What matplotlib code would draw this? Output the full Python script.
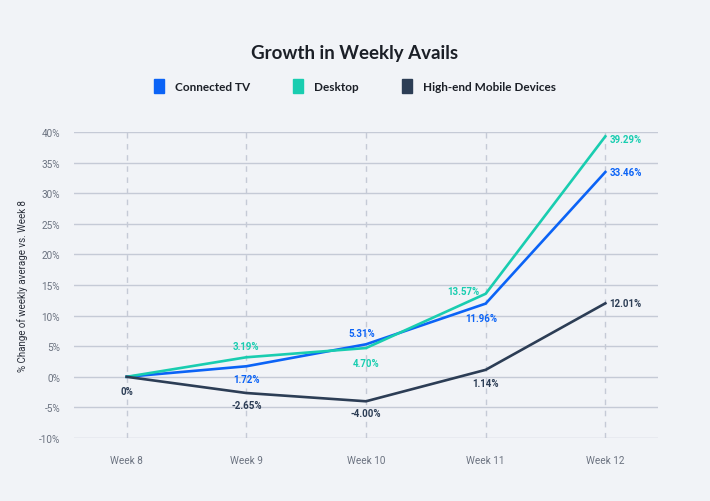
import matplotlib.pyplot as plt
from matplotlib.patches import Patch

weeks = ["Week 8", "Week 9", "Week 10", "Week 11", "Week 12"]
connected_tv = [0, 1.72, 5.31, 11.96, 33.46]
desktop = [0, 3.19, 4.70, 13.57, 39.29]
mobile = [0, -2.65, -4.00, 1.14, 12.01]
series_names = ["Connected TV", "Desktop", "High-end Mobile Devices"]
colors = ["#0b63f6", "#19cdb0", "#2c3d55"]

# label placement per point: (dx, dy, ha) in pixels, None = no label
tv_pos = [None, (0, -13, "center"), (-4, 11, "center"), (-4, -14, "center"), (4, 0, "left")]
desk_pos = [None, (0, 11, "center"), (0, -15, "center"), (-6, 3, "right"), (4, -3, "left")]
mob_pos = [(0, -14, "center"), (0, -12, "center"), (0, -12, "center"), (0, -13, "center"), (4, 0, "left")]

bg = "#f1f3f7"
plt.rcParams["font.family"] = ["Roboto", "DejaVu Sans"]

fig = plt.figure(figsize=(7.1, 5.02), dpi=100, facecolor=bg)
ax = fig.add_axes([74 / 710, 1 - 439 / 502, (658 - 74) / 710, (439 - 133) / 502])
ax.set_facecolor(bg)

x = list(range(len(weeks)))
for vals, pos, c in zip([connected_tv, desktop, mobile], [tv_pos, desk_pos, mob_pos], colors):
    ax.plot(x, vals, color=c, lw=1.9, zorder=3, solid_joinstyle="miter")
    for xi, v, p in zip(x, vals, pos):
        if p is None:
            continue
        lbl = "0%" if v == 0 else f"{v:.2f}%"
        ax.annotate(lbl, (xi, v), xytext=(p[0], p[1]), textcoords="offset pixels",
                    ha=p[2], va="center", fontsize=7, fontweight="bold", color=c, zorder=4)

ax.set_xlim(-0.44, 4.44)
ax.set_ylim(-10, 40)
ax.set_yticks(range(-10, 41, 5))
ax.set_yticklabels([f"{t}%" for t in range(-10, 41, 5)])
ax.set_xticks(x)
ax.set_xticklabels(weeks)
ax.grid(axis="y", color="#c5cad6", lw=1)
for xi in x:
    ax.axvline(xi, color="#c5cad6", lw=1, ls=(0, (4, 4)), zorder=1)
for s in ax.spines.values():
    s.set_visible(False)
ax.tick_params(length=0, labelsize=7.2, colors="#6b7280", pad=10)
ax.tick_params(axis="x", pad=12)
ax.set_ylabel("% Change of weekly average vs. Week 8", fontsize=7, color="#2a2f3a", labelpad=8)

fig.text(0.5, 1 - 53 / 502, "Growth in Weekly Avails", ha="center", va="center",
         fontsize=13.5, fontweight="bold", color="#1b1f27", family=["Lato", "DejaVu Sans"])

handles = [Patch(facecolor=c, edgecolor=c) for c in colors]
leg = fig.legend(handles, series_names, loc="center", bbox_to_anchor=(0.5, 1 - 87 / 502), ncol=3,
                 frameon=False, handlelength=0.85, handleheight=1.5, handletextpad=0.9,
                 columnspacing=3.7, prop={"family": ["Lato", "DejaVu Sans"], "weight": "bold", "size": 8.5})
for t in leg.get_texts():
    t.set_color("#1b1f27")

fig.savefig("out.png", dpi=100, facecolor=bg)
